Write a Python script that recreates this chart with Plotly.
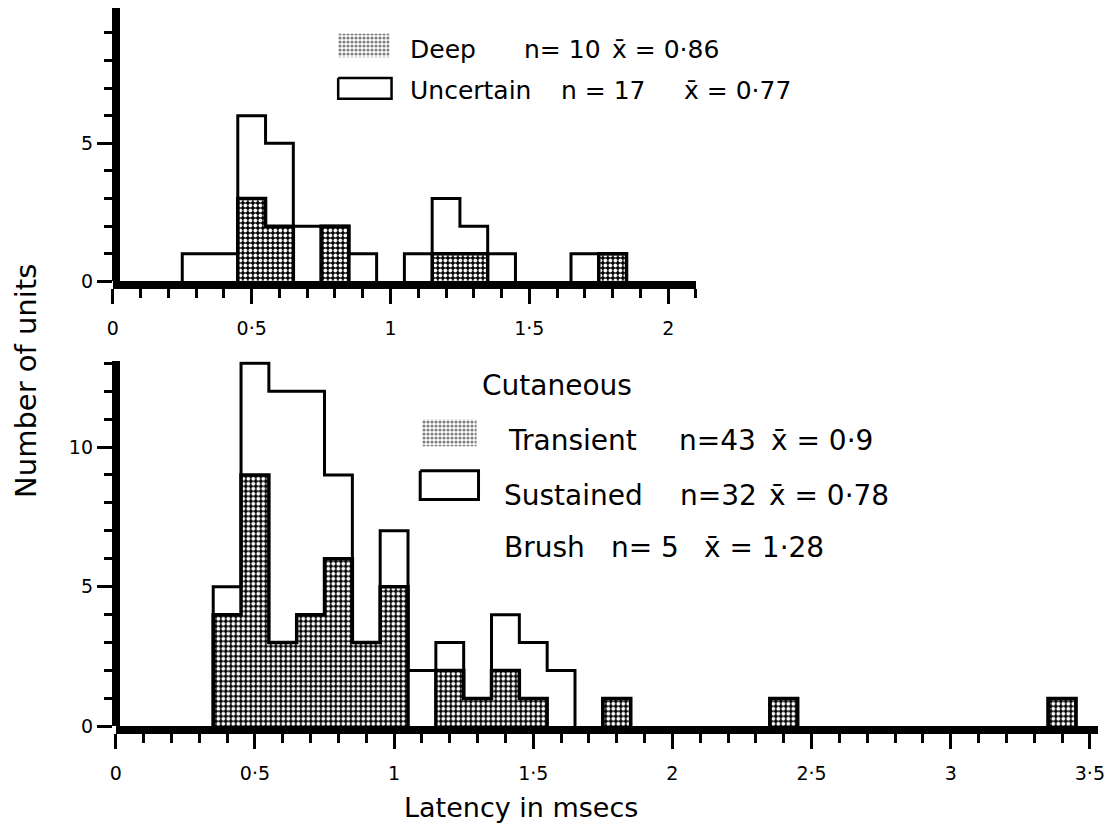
import plotly.graph_objects as go

# ---------------- data ----------------
BIN_W = 0.1
# upper panel: deep / uncertain units, bin centres (ms)
top_bins = [0.3, 0.4, 0.5, 0.6, 0.7, 0.8, 0.9, 1.0, 1.1, 1.2, 1.3, 1.4, 1.5, 1.6, 1.7, 1.8]
deep =      [0,   0,   3,   2,   0,   2,   0,   0,   0,   1,   1,   0,   0,   0,   0,   1]
uncertain = [1,   1,   3,   3,   2,   0,   1,   0,   1,   2,   1,   1,   0,   0,   1,   0]

# lower panel: cutaneous units
cut_bins =  [0.4, 0.5, 0.6, 0.7, 0.8, 0.9, 1.0, 1.1, 1.2, 1.3, 1.4, 1.5, 1.6, 1.7, 1.8, 2.4, 3.4]
transient = [4,   9,   3,   4,   6,   3,   5,   0,   2,   1,   2,   1,   0,   0,   1,   1,   1]
sustained = [1,   4,   9,   8,   3,   0,   2,   2,   1,   0,   2,   2,   2,   0,   0,   0,   0]

top_ticks = [0, 0.5, 1, 1.5, 2]
top_ticktext = ["0", "0·5", "1", "1·5", "2"]
bot_ticks = [0, 0.5, 1, 1.5, 2, 2.5, 3, 3.5]
bot_ticktext = ["0", "0·5", "1", "1·5", "2", "2·5", "3", "3·5"]

top_legend = [("Deep", "n= 10", "x̄ = 0·86"), ("Uncertain", "n = 17", "x̄ = 0·77")]
bot_title = "Cutaneous"
bot_legend = [("Transient", "n=43", "x̄ = 0·9"), ("Sustained", "n=32", "x̄ = 0·78"),
              ("Brush", "n= 5", "x̄ = 1·28")]

FONT = "DejaVu Sans"
W, H = 1115, 836
OX, OY = 8, 8   # page offset of the plot div


def fx(px):
    return (px - OX) / W


def fy(py):
    return 1 - (py - OY) / H


def step_outline(centres, heights, w=BIN_W):
    xs, ys = [], []
    n = len(centres)
    open_run = False
    for i in range(n):
        c, h = centres[i], heights[i]
        if h <= 0:
            continue
        if not open_run:
            xs.append(c - w / 2); ys.append(0)
            open_run = True
        xs += [c - w / 2, c + w / 2]
        ys += [h, h]
        nxt_adj = (i + 1 < n and abs(centres[i + 1] - c - w) < 1e-6 and heights[i + 1] > 0)
        if not nxt_adj:
            xs.append(c + w / 2); ys.append(0)
            xs.append(None); ys.append(None)
            open_run = False
    return xs, ys


pattern = dict(shape=".", fgcolor="white", bgcolor="black", size=5, solidity=0.45, fillmode="replace")

fig = go.Figure()


def add_panel(bins, lower, upper, xa, ya):
    total = [a + b for a, b in zip(lower, upper)]
    fig.add_trace(go.Bar(x=bins, y=lower, width=BIN_W, xaxis=xa, yaxis=ya,
                         marker=dict(color="black", pattern=pattern, line=dict(width=0)),
                         showlegend=False, hoverinfo="skip"))
    fig.add_trace(go.Bar(x=bins, y=upper, width=BIN_W, xaxis=xa, yaxis=ya,
                         marker=dict(color="white", line=dict(width=0)),
                         showlegend=False, hoverinfo="skip"))
    for hts, lw in ((total, 3), (lower, 3.5)):
        xs, ys = step_outline(bins, hts)
        fig.add_trace(go.Scatter(x=xs, y=ys, mode="lines", xaxis=xa, yaxis=ya,
                                 line=dict(color="black", width=lw), showlegend=False,
                                 hoverinfo="skip", connectgaps=False))


add_panel(top_bins, deep, uncertain, "x", "y")
add_panel(cut_bins, transient, sustained, "x2", "y2")


# ---- overlay in pixel space for legend keys and texts ----
def rect(x0, x1, y0, y1):
    return [x0 - OX, x1 - OX, x1 - OX, x0 - OX, x0 - OX], [y0 - OY, y0 - OY, y1 - OY, y1 - OY, y0 - OY]


key_pattern = dict(shape=".", fgcolor="black", bgcolor="white", size=4, solidity=0.5)
for (x0, x1, y0, y1) in [(336, 388, 34, 58), (421, 476, 425, 452)]:
    sx, sy = rect(x0, x1, y0, y1)
    fig.add_trace(go.Scatter(x=sx, y=sy, xaxis="x3", yaxis="y3", mode="lines", fill="toself",
                             fillcolor="black", line=dict(width=0, color="black"),
                             fillpattern=key_pattern, showlegend=False, hoverinfo="skip"))
for (x0, x1, y0, y1, lw) in [(336, 390, 79, 100, 2.5), (419, 478, 477, 506, 3)]:
    sx, sy = rect(x0, x1, y0, y1)
    fig.add_trace(go.Scatter(x=sx, y=sy, xaxis="x3", yaxis="y3", mode="lines",
                             line=dict(width=lw, color="black"), showlegend=False, hoverinfo="skip"))

ann = []


def txt(x, y, s, size, anchor="left", angle=0):
    ann.append(dict(x=x - OX, y=y - OY, xref="x3", yref="y3", text=s, showarrow=False, xanchor=anchor,
                    yanchor="middle", textangle=angle, borderpad=0,
                    font=dict(family=FONT, size=size, color="black")))


top_rows_y = [50, 92]
top_cols = [[408, 523, 612], [408, 560, 685]]
for (a, b, c), yy, cols in zip(top_legend, top_rows_y, top_cols):
    txt(cols[0], yy, a, 25); txt(cols[1], yy, b, 25); txt(cols[2], yy, c, 25)

txt(481, 391, bot_title, 28)
bot_rows_y = [446, 502, 555]
bot_cols = [[507, 680, 773], [503, 681, 771], [503, 611, 705]]
for (a, b, c), yy, cols in zip(bot_legend, bot_rows_y, bot_cols):
    txt(cols[0], yy, a, 28); txt(cols[1], yy, b, 28); txt(cols[2], yy, c, 28)

txt(20, 386, "Number of units", 29, anchor="center", angle=-90)
txt(521, 818, "Latency in msecs", 27, anchor="center")

tickfont = dict(family=FONT, size=19, color="black")


def xax(domain, rng, vals, text):
    return dict(domain=domain, range=rng, showline=True, linewidth=8, linecolor="black",
                ticks="outside", ticklen=15, tickwidth=3, tickcolor="black",
                tickmode="array", tickvals=vals, ticktext=text, tickfont=tickfont,
                ticklabelstandoff=8,
                showgrid=False, zeroline=False, fixedrange=True,
                minor=dict(tickmode="linear", tick0=0, dtick=0.1, ticks="outside",
                           ticklen=9, tickwidth=2.5, tickcolor="black", showgrid=False))


def yax(domain, rng, vals):
    return dict(domain=domain, range=rng, showline=True, linewidth=8, linecolor="black",
                anchor="free", position=fx(111),
                ticks="outside", ticklen=15, tickwidth=2.5, tickcolor="black",
                tickmode="array", tickvals=vals, ticktext=[str(v) for v in vals],
                tickfont=tickfont, showgrid=False, zeroline=False, fixedrange=True,
                minor=dict(tickmode="linear", tick0=0, dtick=1, ticks="outside",
                           ticklen=8, tickwidth=2.5, tickcolor="black", showgrid=False))


fig.update_layout(
    width=W, height=H, margin=dict(l=0, r=0, t=0, b=0),
    paper_bgcolor="white", plot_bgcolor="rgba(0,0,0,0)", barmode="stack", bargap=0,
    xaxis=xax([fx(108), fx(698)], [0, 2.1], top_ticks, top_ticktext),
    yaxis=yax([fy(285), fy(8)], [0, 9.9], [0, 5]),
    xaxis2=xax([fx(111), fx(1105)], [0, 3.53], bot_ticks, bot_ticktext),
    yaxis2=yax([fy(736), fy(366)], [0, 13.07], [0, 5, 10]),
    xaxis3=dict(domain=[0, 1], range=[0, W], visible=False, fixedrange=True, anchor="y3"),
    yaxis3=dict(domain=[0, 1], range=[H, 0], visible=False, fixedrange=True, anchor="x3"),
    annotations=ann,
    showlegend=False,
)
fig.update_layout(xaxis=dict(anchor="y"), xaxis2=dict(anchor="y2"))

fig.write_html("out.html")
